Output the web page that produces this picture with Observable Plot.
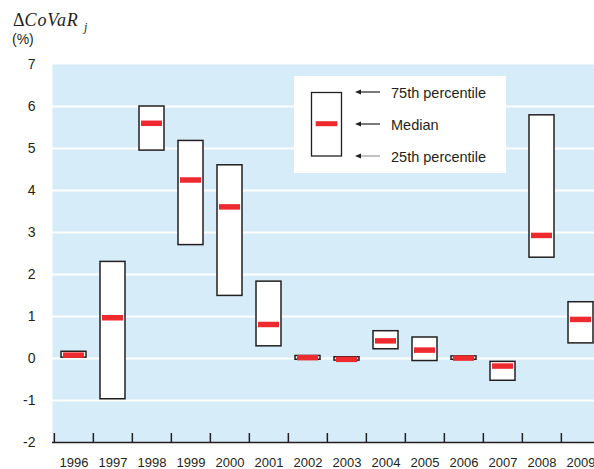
<!DOCTYPE html>
<html><head><meta charset="utf-8">
<script src="https://cdn.jsdelivr.net/npm/d3@7"></script>
<script src="https://cdn.jsdelivr.net/npm/@observablehq/plot@0.6"></script>
<style>
body{margin:0;background:#fff;overflow:hidden}
#wrap{position:relative;width:594px;height:469px;overflow:hidden}
#wrap svg.ov{position:absolute;left:0;top:0;pointer-events:none}
</style></head><body><div id="wrap"></div>
<script>
const years = [1996,1997,1998,1999,2000,2001,2002,2003,2004,2005,2006,2007,2008,2009];
const q25 = [0.02,-0.97,4.95,2.70,1.49,0.29,-0.03,-0.05,0.22,-0.06,-0.03,-0.53,2.40,0.36];
const q75 = [0.16,2.30,6.00,5.18,4.60,1.83,0.06,0.03,0.65,0.50,0.05,-0.08,5.79,1.34];
const median = [0.08,0.97,5.60,4.25,3.61,0.81,0.02,-0.02,0.42,0.20,0.01,-0.18,2.93,0.93];
const yTicks = [-2,-1,0,1,2,3,4,5,6,7];
const gridValues = [-1,0,1,2,3,4,5,6];
const legendLabels = ["75th percentile","Median","25th percentile"];

const data = years.map((y,i)=>({year:y,q25:q25[i],q75:q75[i],median:median[i]}));
const ink = "#231f20";
const xRange = [52, 602];
const bw = (xRange[1]-xRange[0])/years.length;

const chart = Plot.plot({
  width: 594, height: 469,
  marginLeft: 52, marginRight: 0, marginTop: 64, marginBottom: 27,
  style: {fontFamily: "'Liberation Sans', Arial, sans-serif", background: "white", color: ink},
  x: {type: "band", domain: years, range: xRange, padding: 0},
  y: {domain: [-2, 7], range: [442, 64]},
  marks: [
    Plot.frame({fill: "#d6ecf8", stroke: "none"}),
    Plot.ruleY(gridValues, {stroke: "white", strokeWidth: 2}),
    Plot.barY(data, {x: "year", y1: "q25", y2: "q75", fill: "white", stroke: ink, strokeWidth: 1.5, insetLeft: 7, insetRight: 7}),
    Plot.tickY(data, {x: "year", y: "median", stroke: "#ee2a2f", strokeWidth: 5.5, insetLeft: 9, insetRight: 9}),
    Plot.ruleY([-2], {stroke: ink, strokeWidth: 1.5}),
    Plot.ruleX(years, {x: d => d, dx: -bw/2, insetTop: 369, stroke: ink, strokeWidth: 1.5}),
    Plot.axisY({ticks: yTicks, tickSize: 0, tickPadding: 17, fontSize: 14, color: ink, label: null, tickFormat: d => String(d)}),
    Plot.axisX({tickSize: 0, tickPadding: 15.5, fontSize: 13, color: ink, label: null,
      fontFamily: "'Liberation Sans Narrow', 'Liberation Sans', Arial, sans-serif",
      tickFormat: d => String(d)})
  ]
});
const wrap = document.getElementById("wrap");
wrap.appendChild(chart);

// overlay: y-axis title and legend
const ov = d3.select(wrap).append("svg").attr("class","ov").attr("width",594).attr("height",469);
const t = ov.append("text").attr("x",13).attr("y",26).attr("fill",ink)
  .style("font-family","'Liberation Serif','Times New Roman',serif").style("font-size","18px");
t.append("tspan").text("Δ");
t.append("tspan").style("font-style","italic").attr("letter-spacing","0.8").text("CoVaR");
ov.append("text").attr("x",84).attr("y",30.5).attr("fill",ink)
  .style("font-family","'Liberation Serif','Times New Roman',serif").style("font-size","12px").style("font-style","italic").text("j");
ov.append("text").attr("x",12).attr("y",44).attr("fill",ink)
  .style("font-family","'Liberation Sans',Arial,sans-serif").style("font-size","14px").text("(%)");

const lg = ov.append("g");
lg.append("rect").attr("x",294).attr("y",76).attr("width",212).attr("height",97).attr("fill","white");
lg.append("rect").attr("x",311.5).attr("y",92.5).attr("width",30).attr("height",63.5).attr("fill","white").attr("stroke",ink).attr("stroke-width",1.3);
lg.append("rect").attr("x",315.7).attr("y",121.2).attr("width",21.6).attr("height",5).attr("fill","#ee2a2f");
const ly = [92, 124, 156];
legendLabels.forEach((s,i)=>{
  const col = i===2 ? "#9a9a9a" : ink;
  lg.append("line").attr("x1",360).attr("x2",380).attr("y1",ly[i]).attr("y2",ly[i]).attr("stroke",col).attr("stroke-width",1.2);
  lg.append("path").attr("d",`M355,${ly[i]}L361,${ly[i]-2.5}L361,${ly[i]+2.5}Z`).attr("fill",ink);
  lg.append("text").attr("x",391).attr("y",ly[i]+5.5).attr("fill",ink)
    .style("font-family","'Liberation Sans',Arial,sans-serif").style("font-size","14.5px").text(s);
});
</script></body></html>
